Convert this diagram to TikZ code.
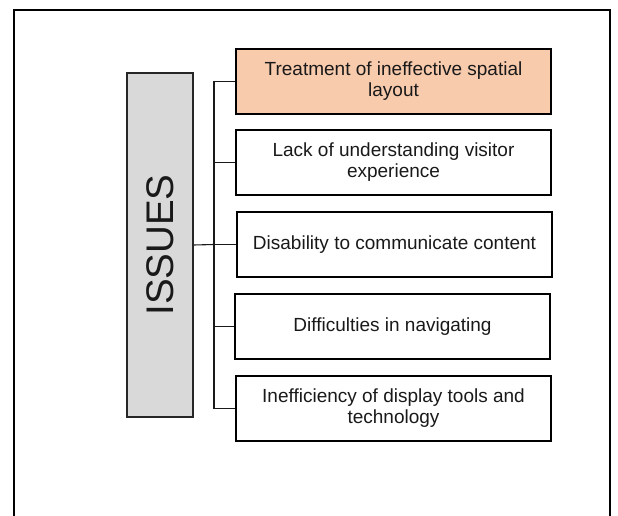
\documentclass[tikz,border=0pt]{standalone}
\usepackage{fontspec}
\setmainfont{Liberation Sans}
\definecolor{peach}{HTML}{F8CBAD}
\definecolor{issuegray}{HTML}{D9D9D9}
\begin{document}
\begin{tikzpicture}[x=1pt,y=-1pt,
  issuebox/.style={draw=black, line width=1.3pt, minimum width=315pt, minimum height=65pt, inner sep=0pt, align=center, font=\fontsize{19pt}{21pt}\selectfont, text=black!90},
  conn/.style={draw=black!90, line width=1.1pt}]
\useasboundingbox (0,0) rectangle (618,516);
\draw[line width=1.3pt] (14,516) -- (14,10) -- (610,10) -- (610,516);
\node[draw=black!85, line width=1.1pt, fill=issuegray, minimum width=66pt, minimum height=344pt, inner sep=0pt] (issues) at (160,245) {};
\node[rotate=90, font=\fontsize{38.5pt}{40pt}\selectfont, text=black!90] (issuelabel) at (issues.center) {ISSUES};
\node[issuebox, fill=peach] (b1) at (393.5,81.5) {Treatment of ineffective spatial\\layout};
\node[issuebox] (b2) at (393.5,162.5) {Lack of understanding visitor\\experience};
\node[issuebox] (b3) at (394.5,244.5) {Disability to communicate content};
\node[issuebox] (b4) at (392.5,326.5) {Difficulties in navigating};
\node[issuebox] (b5) at (393.5,408.5) {Inefficiency of display tools and\\technology};
\coordinate (sp) at (214,244.5);
\draw[conn] (issues.east) -- (sp);
\draw[conn] (b1.west) -| (sp) |- (b5.west);
\foreach \b in {b2,b3,b4} {\draw[conn] (\b.west) -- (\b.west -| sp);}
\end{tikzpicture}
\end{document}
